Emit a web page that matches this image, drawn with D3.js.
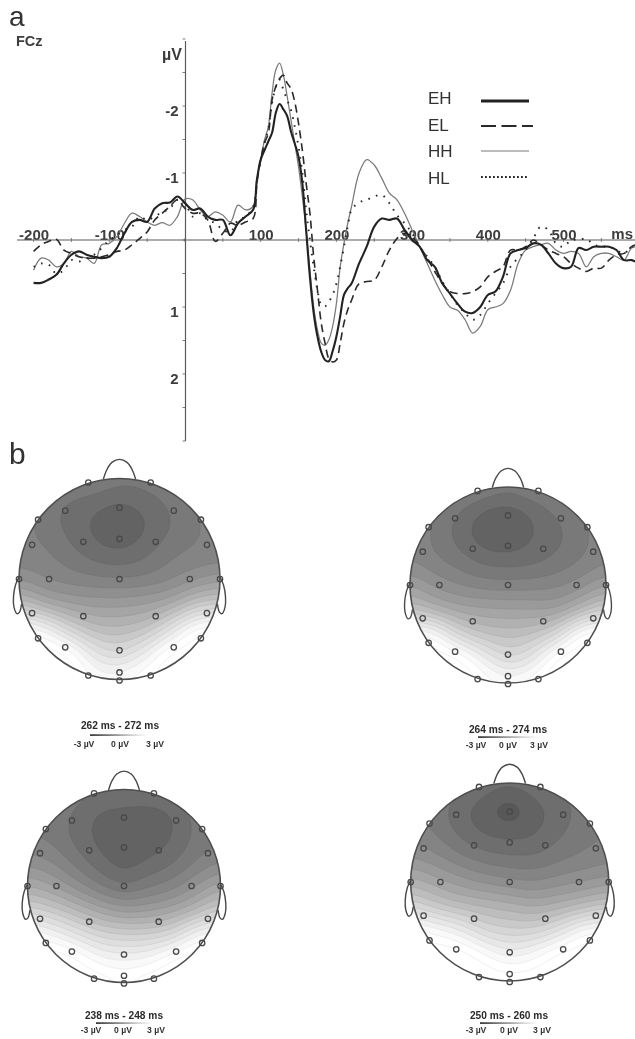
<!DOCTYPE html>
<html><head><meta charset="utf-8">
<script src="https://cdnjs.cloudflare.com/ajax/libs/d3/7.8.5/d3.min.js"></script>
<style>html,body{margin:0;padding:0;background:#fff}svg{display:block}text{font-family:"Liberation Sans",Arial,sans-serif}</style>
</head><body><svg id="c" width="635" height="1039"></svg>
<script>
// ---------- ERP waveforms (µV, negative up) ----------
const times = [...d3.range(-200,91,10), ...d3.range(95,221,5), ...d3.range(230,601,10)];
const seriesNames = ["EH","EL","HH","HL"];
const EH = [
 .64,.64,.59,.52,.35,.22,.17,.22,.25,.27,
 .25,.12,-.10,-.27,-.30,-.27,-.47,-.55,-.56,-.65,
 -.55,-.45,-.47,-.35,-.30,-.30,-.07,-.25,-.35,-.45,
 -.90,-1.2,-1.34,-1.47,-1.6,-1.9,-2.03,-1.95,-1.85,-1.62,-1.44,-1.24,
 -.85,-.15,.55,1.09,1.44,1.67,1.79,1.81,1.66,1.44,1.14,.82,.72,.65,
 .35,.10,-.20,-.32,-.30,-.32,-.15,0,
 .10,.30,.40,.65,.80,.95,1.07,1.09,1.0,.82,
 .77,.55,.20,.15,.12,.05,.07,.20,.35,.42,
 .40,.12,.15,.10,.10,.10,.15,.30,.30,.35];
const EL = [
 .17,.07,.02,-.01,.15,.20,.25,.27,.27,.25,
 .22,.17,.15,.07,-.02,-.12,-.30,-.40,-.50,-.60,
 -.47,-.40,-.40,-.30,.02,-.10,-.25,-.22,-.27,-.32,
 -.85,-1.2,-1.45,-1.59,-2.09,-2.29,-2.41,-2.46,-2.34,-2.26,-2.06,-1.74,
 -1.34,-.85,-.40,.25,.75,1.24,1.54,1.77,1.82,1.79,1.54,1.24,1.04,.90,
 .65,.62,.60,.40,.15,-.02,-.10,-.05,
 .10,.27,.47,.65,.77,.80,.80,.77,.70,.55,
 .47,.40,.15,.15,.10,0,.07,.15,.20,.25,
 .35,.42,.47,.42,.42,.30,.22,.20,.10,.05];
const HH = [
 .45,.27,.30,.40,.35,.17,.25,.27,.35,.07,
 .05,-.05,-.25,-.40,-.35,-.27,-.22,-.26,-.22,-.35,
 -.61,-.60,-.45,-.35,-.42,-.37,-.27,-.52,-.45,-.50,
 -.90,-1.2,-1.49,-1.69,-2.19,-2.54,-2.64,-2.46,-2.14,-1.79,-1.44,-1.09,
 -.65,-.15,.45,1.0,1.34,1.54,1.57,1.49,1.29,.95,.40,.05,-.25,-.50,
 -1.0,-1.20,-1.12,-.92,-.70,-.60,-.40,-.15,
 .10,.35,.60,.82,1.0,1.05,1.19,1.39,1.29,1.04,
 1.0,.95,.75,.35,.15,.10,.07,.05,.15,.20,
 .17,.20,.40,.25,.20,.20,.25,.30,.12,.10];
const HL = [
 .40,.35,.37,.50,.45,.30,.32,.27,.22,.12,
 0,-.07,-.15,-.20,-.35,-.30,-.35,-.42,-.47,-.60,
 -.55,-.35,-.40,-.30,-.25,-.15,-.12,-.30,-.35,-.50,
 -.88,-1.2,-1.45,-1.65,-2.04,-2.29,-2.39,-2.24,-2.09,-1.94,-1.69,-1.39,
 -1.0,-.45,0,.40,.75,.97,.99,.92,.82,.65,.40,.10,-.20,-.45,
 -.56,-.60,-.65,-.67,-.55,-.37,-.25,-.10,
 .10,.25,.40,.62,.80,.97,1.09,1.19,1.12,.95,
 .80,.65,.40,.27,.15,-.02,-.20,-.15,.05,.10,
 0,0,-.02,.07,.10,.10,.15,.20,.10,.10];
const xTickValues = [-200,-100,100,200,300,400,500];
const yTickValues = [-2,-1,1,2];
const legendLabels = ["EH","EL","HH","HL"];

// ---------- scalp map value grids (µV, 9 columns × 9 rows, left→right, top→bottom) ----------
const topoA = [
 [-.68,-.84,-.91,-.88,-.42,.97,2.95,3.6,3.6],
 [-.68,-1.08,-1.1,-.94,-.68,.3,2.6,3.6,3.6],
 [-.84,-1.42,-1.45,-1.2,-.84,-.02,1.5,3.3,3.6],
 [-1,-1.55,-1.74,-1.5,-.94,-.12,.8,2.1,2.95],
 [-1.17,-1.72,-1.96,-1.6,-1,-.12,.74,1.7,2.95],
 [-1.17,-1.55,-1.7,-1.42,-.94,-.02,.97,2.4,3.3],
 [-1,-1.3,-1.35,-1.08,-.75,.25,1.9,3.4,3.6],
 [-.68,-1,-1.04,-.94,-.42,.97,3.1,3.6,3.6],
 [-.68,-.84,-.91,-.88,-.18,1.3,3.3,3.6,3.6]];
const topoB = [
 [-.35,-.68,-.75,-.68,-.02,.97,3.1,3.6,3.6],
 [-.68,-1,-1.08,-.94,-.42,.48,2.8,3.6,3.6],
 [-.84,-1.34,-1.47,-1.17,-.68,.15,1.5,3.4,3.6],
 [-1,-1.72,-1.88,-1.44,-.84,.05,.97,2.4,3.3],
 [-1.17,-1.85,-1.97,-1.5,-.88,0,.84,1.63,2.95],
 [-1,-1.6,-1.68,-1.44,-.84,-.02,.97,2.1,3.3],
 [-.84,-1.27,-1.44,-1.24,-.75,-.02,1.6,3.4,3.6],
 [-.68,-1,-1.1,-1,-.5,.64,3.1,3.6,3.6],
 [-.5,-.78,-.84,-.75,-.02,1.3,3.3,3.6,3.6]];
const topoC = [
 [-.84,-1,-1,-.48,.3,1.47,2.95,3.6,3.6],
 [-1,-1.1,-1.1,-.68,-.02,1.14,2.6,3.6,3.6],
 [-1.17,-1.4,-1.44,-1.14,-.5,.64,2,3.4,3.6],
 [-1.27,-1.72,-1.78,-1.55,-1,.15,1.47,2.7,3.6],
 [-1.27,-1.82,-1.97,-1.82,-1.34,-.18,1.3,2.55,3.3],
 [-1.27,-1.87,-1.92,-1.62,-1.08,-.08,1.3,2.7,3.6],
 [-1.17,-1.67,-1.67,-1.4,-.84,.15,1.6,3.3,3.6],
 [-1,-1.2,-1.24,-1,-.35,.64,2.6,3.6,3.6],
 [-.84,-1,-1.08,-.68,.15,1.3,2.9,3.6,3.6]];
const topoD = [
 [-.84,-1,-.84,-.35,.48,1.63,3.2,3.6,3.6],
 [-1,-1.14,-1.04,-.6,.15,1.14,2.9,3.6,3.6],
 [-1.17,-1.57,-1.44,-.94,-.18,.8,2.4,3.6,3.6],
 [-1.44,-1.86,-1.72,-1.2,-.42,.64,1.63,3.1,3.6],
 [-1.5,-2.25,-1.8,-1.3,-.58,.48,1.43,2.55,3.6],
 [-1.44,-1.78,-1.72,-1.3,-.68,.3,1.47,2.9,3.6],
 [-1.27,-1.54,-1.4,-1.1,-.5,.48,2,3.5,3.6],
 [-1,-1.17,-1.14,-.94,-.35,.8,2.9,3.6,3.6],
 [-.84,-1,-1,-.8,-.18,1.14,3,3.6,3.6]];
const topoTitles = ["262 ms - 272 ms","264 ms - 274 ms","238 ms - 248 ms","250 ms - 260 ms"];
const colorbarLabels = ["-3 µV","0 µV","3 µV"];
const contourLevels = [-2,-1.67,-1.34,-1.01,-.68,-.35,-.02,.31,.64,.97,1.3,1.63,1.96,2.29,2.62,2.95,3.28];

// electrode sites on the unit head
const electrodeX = [-.31,.31,-.54,0,.54,-.81,.81,-.87,-.36,0,.36,.87,-1,-.7,0,.7,1,-.87,-.36,.36,.87,-.81,-.54,0,.54,.81,-.31,.31,0,0];
const electrodeY = [-.96,-.96,-.68,-.71,-.68,-.59,-.59,-.34,-.37,-.40,-.37,-.34,0,0,0,0,0,.34,.37,.37,.34,.59,.68,.71,.68,.59,.96,.96,.93,1.01];

// ---------- layout ----------
const W=635,H=1039;
const svg=d3.select("#c");
const defs=svg.append("defs");
defs.append("filter").attr("id","soft").attr("x","-5%").attr("y","-5%").attr("width","110%").attr("height","110%")
  .append("feGaussianBlur").attr("stdDeviation",.45);
const root=svg.append("g").attr("filter","url(#soft)");

const x=d3.scaleLinear().domain([-200,600]).range([33.6,639.2]);
const y=d3.scaleLinear().domain([-3,3]).range([39,441]);
const axisCol="#5a5a5a", labCol="#3c3c3c";

root.append("text").attr("x",9).attr("y",25.5).attr("font-size",28).attr("fill","#333").text("a");
root.append("text").attr("x",9).attr("y",464).attr("font-size",30).attr("fill","#333").text("b");
root.append("text").attr("x",16).attr("y",46).attr("font-size",14.5).attr("font-weight","bold").attr("fill",labCol).text("FCz");

// x axis: baseline, minor ticks, labels sit on the baseline
const gx=root.append("g").attr("transform",`translate(0,${y(0)})`);
const axX=d3.axisTop(x).tickValues(xTickValues).tickSize(0).tickPadding(0).tickFormat(String);
gx.call(axX);
gx.select(".domain").remove();
gx.selectAll("text").attr("font-size",15).attr("font-weight","bold").attr("fill",labCol).attr("font-family",null);
gx.append("line").attr("x1",17).attr("x2",635).attr("stroke",axisCol).attr("stroke-width",1.2);
gx.selectAll("line.minor").data(d3.range(-200,600,50)).join("line").attr("class","minor")
  .attr("x1",d=>x(d)).attr("x2",d=>x(d)).attr("y1",-2).attr("y2",2).attr("stroke",axisCol).attr("stroke-width",.7);
root.append("text").attr("x",633).attr("y",y(0)-1).attr("text-anchor","end").attr("font-size",15).attr("font-weight","bold").attr("fill",labCol).text("ms");

// y axis
const gy=root.append("g").attr("transform",`translate(${x(0)+.5},0)`);
gy.call(d3.axisLeft(y).tickValues(yTickValues).tickSize(0).tickPadding(7).tickFormat(String));
gy.select(".domain").remove();
gy.selectAll("text").attr("font-size",15).attr("font-weight","bold").attr("fill",labCol).attr("font-family",null).attr("dy",".62em");
gy.append("line").attr("y1",41).attr("y2",441).attr("stroke",axisCol).attr("stroke-width",1.2);
gy.selectAll("line.minor").data(d3.range(-3,3.01,.5)).join("line").attr("class","minor")
  .attr("y1",d=>y(d)).attr("y2",d=>y(d)).attr("x1",-3).attr("x2",0).attr("stroke",axisCol).attr("stroke-width",.8);
root.append("text").attr("x",182).attr("y",60).attr("text-anchor","end").attr("font-size",16).attr("font-weight","bold").attr("fill",labCol).text("µV");

// series
const styles={
 EH:{c:"#232323",w:2.1,d:null,lw:3},
 EL:{c:"#2a2a2a",w:1.6,d:"8 5",lw:2.2,ld:"15 5.5"},
 HH:{c:"#7a7a7a",w:1.25,d:null,lw:1.2},
 HL:{c:"#262626",w:1.9,d:"1.6 6.5",lw:2,ld:"1.8 2.2"}
};
const line=d3.line().x(d=>x(d.t)).y(d=>y(d.v)).curve(d3.curveCatmullRom.alpha(.5));
const seriesVals={EH,EL,HH,HL};
["HH","EL","HL","EH"].forEach(n=>{
  if(seriesVals[n].length!==times.length) throw new Error(n+" length "+seriesVals[n].length+" vs "+times.length);
  const s=styles[n];
  root.append("path").datum(times.map((t,i)=>({t,v:seriesVals[n][i]})))
    .attr("d",line).attr("fill","none").attr("stroke",s.c).attr("stroke-width",s.w)
    .attr("stroke-dasharray",s.d).attr("stroke-linejoin","round");
});

// legend
const legLab=[98,125,151,178], legLine=[101,126,151,177];
legendLabels.forEach((n,i)=>{
  const s=styles[n];
  root.append("text").attr("x",428).attr("y",legLab[i]+6).attr("font-family","'Open Sans'").attr("font-size",17).attr("fill","#333").text(n);
  root.append("line").attr("x1",481).attr("x2",n==="EL"?533:529).attr("y1",legLine[i]).attr("y2",legLine[i])
    .attr("stroke",s.c).attr("stroke-width",s.lw).attr("stroke-dasharray",s.ld||null);
});

// ---------- scalp maps ----------
const gray=d3.scaleLinear().domain([-3,0,1.5,3]).range(["#3c3c3c","#a0a0a0","#d6d6d6","#ffffff"]).clamp(true);
const grad=defs.append("linearGradient").attr("id","cb");
grad.selectAll("stop").data([-3,-1.5,0,1.5,3]).join("stop").attr("offset",d=>(d+3)/6).attr("stop-color",d=>gray(d));

function cr(p0,p1,p2,p3,t){return .5*((2*p1)+(-p0+p2)*t+(2*p0-5*p1+4*p2-p3)*t*t+(-p0+3*p1-3*p2+p3)*t*t*t);}
function resample(cols,n){
  const m=cols.length,out=new Array(n*n);
  const g=(i,j)=>cols[Math.max(0,Math.min(m-1,i))][Math.max(0,Math.min(m-1,j))];
  for(let b=0;b<n;b++)for(let a=0;a<n;a++){
    const u=a/(n-1)*(m-1),v=b/(n-1)*(m-1);
    const i=Math.min(m-2,Math.floor(u)),j=Math.min(m-2,Math.floor(v)),fu=u-i,fv=v-j;
    const row=[-1,0,1,2].map(dj=>cr(g(i-1,j+dj),g(i,j+dj),g(i+1,j+dj),g(i+2,j+dj),fu));
    out[b*n+a]=cr(row[0],row[1],row[2],row[3],fv);
  }
  if(d3.blur2) d3.blur2({data:out,width:n,height:n},5);
  return out;
}
const nose=[[-.16,-.995],[-.125,-1.09],[-.075,-1.16],[0,-1.19],[.075,-1.16],[.125,-1.09],[.16,-.995]];
const earL=[[-1.0,-.02],[-1.035,.06],[-1.055,.18],[-1.05,.28],[-1.02,.345],[-.995,.33],[-.975,.25]];
const earR=earL.map(p=>[-p[0],p[1]]);

const mapPlaces=[
 {cx:119.5,cy:579,r:100.5,tx:120,ty:729,bx0:90,bx1:148,by:735,lx:[84,120,155],ly:747},
 {cx:508,cy:585,r:98,tx:508,ty:733,bx0:478,bx1:538,by:737,lx:[476,508,539],ly:748},
 {cx:124,cy:886,r:96.5,tx:124,ty:1019,bx0:96,bx1:153,by:1023,lx:[91,123,156],ly:1033},
 {cx:509.7,cy:882,r:99,tx:509,ty:1019,bx0:480,bx1:538,by:1023,lx:[476,509,542],ly:1033}
];
const N=121;
[topoA,topoB,topoC,topoD].forEach((T,k)=>{
  const P=mapPlaces[k],g=root.append("g");
  const sx=d=>P.cx+d*P.r, sy=d=>P.cy+d*P.r;
  const clipId="head"+k;
  defs.append("clipPath").attr("id",clipId).append("circle").attr("cx",P.cx).attr("cy",P.cy).attr("r",P.r);
  const vals=resample(T,N);
  const path=d3.geoPath(d3.geoTransform({point(a,b){this.stream.point(P.cx-P.r+(a-.5)/(N-1)*2*P.r,P.cy-P.r+(b-.5)/(N-1)*2*P.r);}}));
  const cs=d3.contours().size([N,N]).smooth(true).thresholds(contourLevels)(vals);
  const clip=g.append("g").attr("clip-path",`url(#${clipId})`);
  clip.append("circle").attr("cx",P.cx).attr("cy",P.cy).attr("r",P.r).attr("fill",gray(-2.17));
  clip.selectAll("path").data(cs).join("path").attr("d",path)
    .attr("fill",d=>d.value>=2.95?"#fff":gray(d.value+.165))
    .attr("stroke",d=>d.value>=2.6?"#e4e4e4":"#3c3c3c").attr("stroke-opacity",d=>d.value>=2.6?.9:.13).attr("stroke-width",.6);
  // head outline, nose, ears
  g.append("circle").attr("cx",P.cx).attr("cy",P.cy).attr("r",P.r).attr("fill","none").attr("stroke","#505050").attr("stroke-width",1.6);
  const outline=d3.line().x(d=>sx(d[0])).y(d=>sy(d[1])).curve(d3.curveCatmullRom.alpha(.5));
  [nose,earL,earR].forEach(sh=>g.append("path").attr("d",outline(sh)).attr("fill","none").attr("stroke","#484848").attr("stroke-width",1.4));
  // electrodes
  g.selectAll("circle.el").data(electrodeX.map((d,i)=>[d,electrodeY[i]])).join("circle").attr("class","el")
    .attr("cx",d=>sx(d[0])).attr("cy",d=>sy(d[1])).attr("r",2.7).attr("fill","none").attr("stroke","#484848").attr("stroke-width",1.3);
  // title and colour bar
  g.append("text").attr("x",P.tx).attr("y",P.ty).attr("text-anchor","middle").attr("font-size",10.2).attr("font-weight","bold").attr("fill","#2a2a2a").text(topoTitles[k]);
  g.append("rect").attr("x",P.bx0).attr("y",P.by-.8).attr("width",P.bx1-P.bx0).attr("height",1.8).attr("fill","url(#cb)");
  colorbarLabels.forEach((t,i)=>g.append("text").attr("x",P.lx[i]).attr("y",P.ly).attr("text-anchor","middle").attr("font-size",8.6).attr("font-weight","bold").attr("fill","#333").text(t));
});
</script></body></html>
